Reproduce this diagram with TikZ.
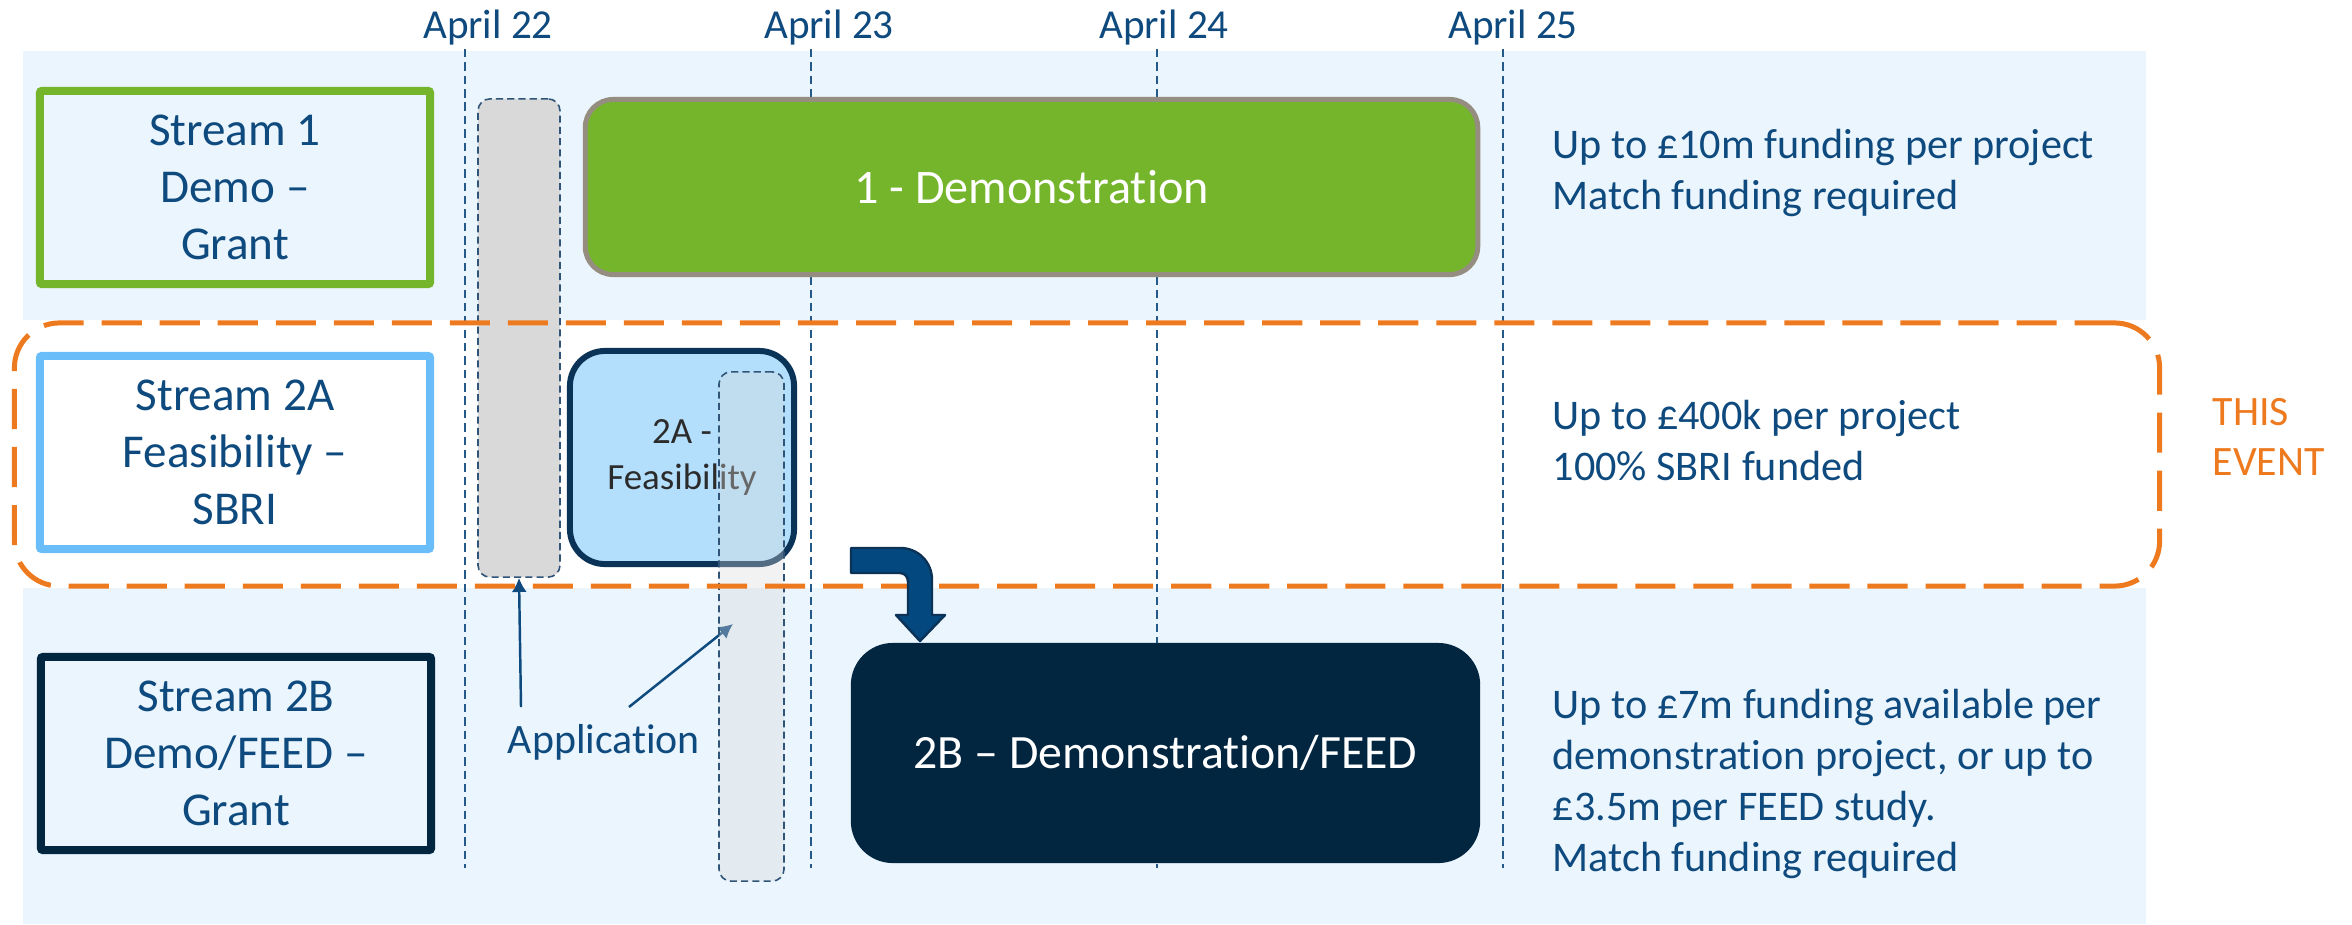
\documentclass[tikz,border=0pt]{standalone}
\usepackage{fontspec}
\setmainfont[Ligatures=NoCommon]{Carlito}
\usetikzlibrary{arrows.meta}
\definecolor{bgblue}{HTML}{EAF5FD}
\definecolor{txtblue}{HTML}{0E4A7E}
\definecolor{grn}{HTML}{75B52C}
\definecolor{grnedge}{HTML}{958D80}
\definecolor{skyedge}{HTML}{69BEFA}
\definecolor{feasfill}{HTML}{B4DFFC}
\definecolor{navy}{HTML}{0B3357}
\definecolor{deepnavy}{HTML}{022540}
\definecolor{evorange}{HTML}{EE7A1F}
\definecolor{bargray}{HTML}{D9D9D9}
\definecolor{lineblue}{HTML}{245A8A}
\definecolor{barline}{HTML}{2F5478}
\definecolor{bentfill}{HTML}{03497F}
\definecolor{darkgraytxt}{HTML}{2B2B2B}
\begin{document}
\begin{tikzpicture}[x=0.01cm,y=-0.01cm,
  streambox/.style={line width=2.3pt, rounded corners=0.6pt, minimum width=3.9cm,
    minimum height=1.93cm, inner sep=0pt, align=center, text=txtblue,
    font=\fontsize{13.4}{16.2}\selectfont},
  dateline/.style={lineblue, line width=0.6pt, dash pattern=on 2.4pt off 1.4pt},
  barstyle/.style={draw=barline, line width=0.45pt, dash pattern=on 2pt off 1.2pt,
    rounded corners=0.12cm, inner sep=0pt},
  infotext/.style={anchor=west, align=left, inner sep=0pt, text=txtblue,
    font=\fontsize{12}{14.5}\selectfont},
  datelabel/.style={anchor=base, inner sep=0pt, text=txtblue,
    font=\fontsize{11.7}{14}\selectfont},
  apparrow/.style={txtblue, line width=0.7pt, -{Latex[length=4pt,width=4.3pt]}},
  phasebox/.style={inner sep=0pt, align=center},
]
\useasboundingbox (0,0) rectangle (2352,924);

% background bands
\fill[bgblue] (23,51) rectangle (2146,320);
\fill[bgblue] (23,588) rectangle (2146,924);

% date grid lines
\foreach \x in {465,811,1157,1503}
  \draw[dateline] (\x,49) -- (\x,868);

% date labels
\node[datelabel] (d22) at (488,38) {April 22};
\node[datelabel] (d23) at (829,38) {April 23};
\node[datelabel] (d24) at (1164,38) {April 24};
\node[datelabel] (d25) at (1513,38) {April 25};

% stream boxes
\node[streambox, draw=grn] (s1) at (235,187.5) {Stream 1\\Demo –\\Grant};
\node[streambox, draw=skyedge, fill=white] (s2a) at (235,452.5) {Stream 2A\\Feasibility –\\SBRI};
\node[streambox, draw=deepnavy] (s2b) at (236,753.5) {Stream 2B\\Demo/FEED –\\Grant};

% application window (first)
\node[barstyle, fill=bargray, minimum width=0.82cm, minimum height=4.78cm] (bar1) at (519,338) {};

% phases
\node[phasebox, draw=grnedge, fill=grn, line width=1.42pt, rounded corners=0.28cm,
  minimum width=8.92cm, minimum height=1.75cm, text=white,
  font=\fontsize{13.7}{16}\selectfont] (demo) at (1031.5,187) {1 - Demonstration};
\node[phasebox, draw=navy, fill=feasfill, line width=1.7pt, rounded corners=0.35cm,
  minimum width=2.24cm, minimum height=2.13cm, text=darkgraytxt,
  font=\fontsize{10.5}{13}\selectfont] (feas) at (682,457.5) {2A -\\Feasibility};
\node[phasebox, fill=deepnavy, rounded corners=0.42cm,
  minimum width=6.29cm, minimum height=2.2cm, text=white,
  font=\fontsize{13.6}{16}\selectfont] (feed) at (1165.5,753) {2B – Demonstration/FEED};

% application label and pointers
\node[datelabel, font=\fontsize{11.9}{14}\selectfont] (applbl) at (604,753) {Application};
\coordinate (a1) at (521,707);
\coordinate (a2) at (629,707);
\coordinate (a2end) at (733,624);
\draw[apparrow] (a1) -- (bar1.south);
\draw[apparrow] (a2) -- (a2end);

% application window (second), translucent
\node[barstyle, fill=bargray, fill opacity=0.35, minimum width=0.65cm, minimum height=5.09cm] (bar2) at (751.5,626.5) {};

% current event outline
\node[draw=evorange, line width=1.42pt, dash pattern=on 11.4pt off 5.1pt,
  rounded corners=0.45cm, minimum width=21.44cm, minimum height=2.63cm, inner sep=0pt]
  (event) at (1087,454.5) {};
\node[anchor=west, align=left, inner sep=0pt, text=evorange,
  font=\fontsize{11.9}{14.2}\selectfont] (evlabel) at (2212,436.5) {THIS\\EVENT};

% bent block arrow from feasibility to demonstration/FEED
\draw[draw=navy, fill=bentfill, line width=0.7pt, line join=round]
  (851,548) -- (900,548) .. controls (918,548) and (932,562) .. (932,580)
  -- (932,615) -- (945,615) -- (920,641) -- (896,615) -- (908,615) -- (908,582)
  .. controls (908,577) and (905,573) .. (900,573) -- (851,573) -- cycle;

% funding notes
\node[infotext] (info1) at (1552,172.5) {Up to £10m funding per project\\Match funding required};
\node[infotext] (info2) at (1552,441) {Up to £400k per project\\100\% SBRI funded};
\node[infotext] (info3) at (1552,784) {Up to £7m funding available per\\demonstration project, or up to\\£3.5m per FEED study.\\Match funding required};
\end{tikzpicture}
\end{document}
